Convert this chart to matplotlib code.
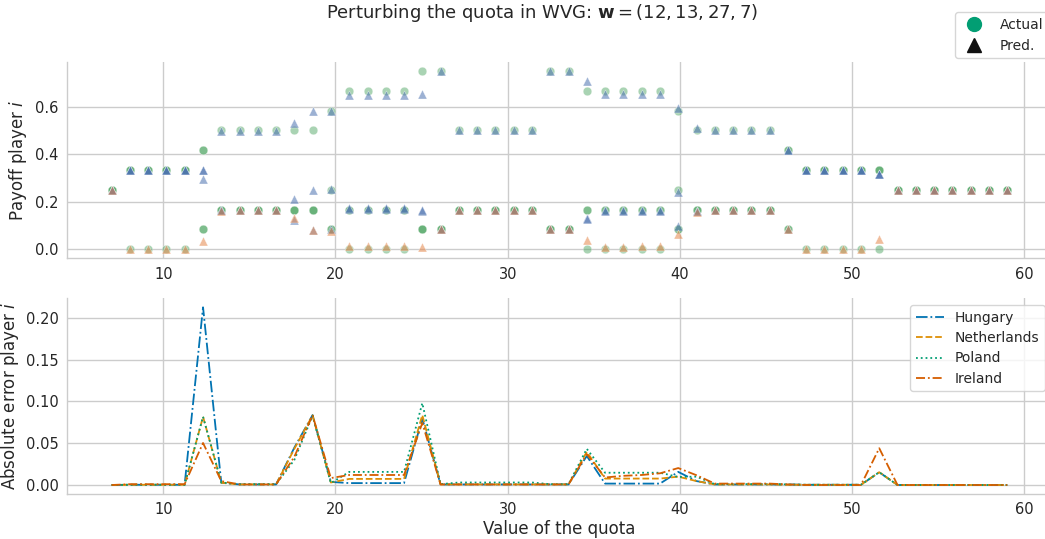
import numpy as np
import matplotlib
matplotlib.use("Agg")
import matplotlib.pyplot as plt
from matplotlib.lines import Line2D

# ---------------- data ----------------
players = ["Hungary", "Netherlands", "Poland", "Ireland"]

quota = [7.00, 8.06, 9.12, 10.18, 11.24, 12.31, 13.37, 14.43, 15.49, 16.55,
         17.61, 18.67, 19.73, 20.80, 21.86, 22.92, 23.98, 25.04, 26.10, 27.16,
         28.22, 29.29, 30.35, 31.41, 32.47, 33.53, 34.59, 35.65, 36.71, 37.78,
         38.84, 39.90, 40.96, 42.02, 43.08, 44.14, 45.20, 46.27, 47.33, 48.39,
         49.45, 50.51, 51.57, 52.63, 53.69, 54.76, 55.82, 56.88, 57.94, 59.00]

actual_hungary = [0.25, 0.3333, 0.3333, 0.3333, 0.3333, 0.0833, 0.1667, 0.1667, 0.1667, 0.1667,
                  0.1667, 0.1667, 0.0833, 0.1667, 0.1667, 0.1667, 0.1667, 0.0833, 0.0833, 0.1667,
                  0.1667, 0.1667, 0.1667, 0.1667, 0.0833, 0.0833, 0.1667, 0.1667, 0.1667, 0.1667,
                  0.1667, 0.0833, 0.1667, 0.1667, 0.1667, 0.1667, 0.1667, 0.0833, 0.3333, 0.3333,
                  0.3333, 0.3333, 0.3333, 0.25, 0.25, 0.25, 0.25, 0.25, 0.25, 0.25]
actual_netherlands = [0.25, 0.3333, 0.3333, 0.3333, 0.3333, 0.4167, 0.1667, 0.1667, 0.1667, 0.1667,
                      0.1667, 0.1667, 0.25, 0.1667, 0.1667, 0.1667, 0.1667, 0.0833, 0.0833, 0.1667,
                      0.1667, 0.1667, 0.1667, 0.1667, 0.0833, 0.0833, 0.1667, 0.1667, 0.1667, 0.1667,
                      0.1667, 0.25, 0.1667, 0.1667, 0.1667, 0.1667, 0.1667, 0.4167, 0.3333, 0.3333,
                      0.3333, 0.3333, 0.3333, 0.25, 0.25, 0.25, 0.25, 0.25, 0.25, 0.25]
actual_poland = [0.25, 0.3333, 0.3333, 0.3333, 0.3333, 0.4167, 0.5, 0.5, 0.5, 0.5,
                 0.5, 0.5, 0.5833, 0.6667, 0.6667, 0.6667, 0.6667, 0.75, 0.75, 0.5,
                 0.5, 0.5, 0.5, 0.5, 0.75, 0.75, 0.6667, 0.6667, 0.6667, 0.6667,
                 0.6667, 0.5833, 0.5, 0.5, 0.5, 0.5, 0.5, 0.4167, 0.3333, 0.3333,
                 0.3333, 0.3333, 0.3333, 0.25, 0.25, 0.25, 0.25, 0.25, 0.25, 0.25]
actual_ireland = [0.25, 0.0, 0.0, 0.0, 0.0, 0.0833, 0.1667, 0.1667, 0.1667, 0.1667,
                  0.1667, 0.1667, 0.0833, 0.0, 0.0, 0.0, 0.0, 0.0833, 0.0833, 0.1667,
                  0.1667, 0.1667, 0.1667, 0.1667, 0.0833, 0.0833, 0.0, 0.0, 0.0, 0.0,
                  0.0, 0.0833, 0.1667, 0.1667, 0.1667, 0.1667, 0.1667, 0.0833, 0.0, 0.0,
                  0.0, 0.0, 0.0, 0.25, 0.25, 0.25, 0.25, 0.25, 0.25, 0.25]

pred_hungary = [0.25, 0.333, 0.333, 0.333, 0.333, 0.296, 0.164, 0.166, 0.166, 0.166,
                0.122, 0.083, 0.087, 0.169, 0.169, 0.169, 0.169, 0.163, 0.084, 0.166,
                0.166, 0.166, 0.166, 0.166, 0.084, 0.084, 0.132, 0.165, 0.165, 0.165,
                0.165, 0.099, 0.162, 0.166, 0.166, 0.166, 0.166, 0.084, 0.333, 0.333,
                0.333, 0.333, 0.318, 0.25, 0.25, 0.25, 0.25, 0.25, 0.25, 0.25]
pred_netherlands = [0.25, 0.333, 0.333, 0.333, 0.333, 0.335, 0.164, 0.166, 0.166, 0.166,
                    0.21, 0.25, 0.253, 0.174, 0.174, 0.174, 0.174, 0.167, 0.084, 0.166,
                    0.166, 0.166, 0.166, 0.166, 0.084, 0.084, 0.127, 0.159, 0.159, 0.159,
                    0.159, 0.24, 0.162, 0.166, 0.166, 0.166, 0.166, 0.417, 0.333, 0.333,
                    0.333, 0.333, 0.318, 0.25, 0.25, 0.25, 0.25, 0.25, 0.25, 0.25]
pred_poland = [0.25, 0.333, 0.333, 0.333, 0.333, 0.335, 0.497, 0.499, 0.499, 0.499,
               0.53, 0.583, 0.581, 0.651, 0.651, 0.651, 0.651, 0.652, 0.749, 0.503,
               0.503, 0.503, 0.503, 0.503, 0.749, 0.749, 0.71, 0.652, 0.652, 0.652,
               0.652, 0.593, 0.51, 0.501, 0.501, 0.501, 0.501, 0.416, 0.333, 0.333,
               0.333, 0.333, 0.318, 0.25, 0.25, 0.25, 0.25, 0.25, 0.25, 0.25]
pred_ireland = [0.25, 0.001, 0.001, 0.001, 0.001, 0.033, 0.162, 0.166, 0.166, 0.166,
                0.133, 0.083, 0.075, 0.012, 0.012, 0.012, 0.012, 0.009, 0.084, 0.166,
                0.166, 0.166, 0.166, 0.166, 0.084, 0.084, 0.037, 0.009, 0.011, 0.012,
                0.014, 0.063, 0.155, 0.165, 0.165, 0.165, 0.165, 0.084, 0.0, 0.0,
                0.0, 0.0, 0.044, 0.25, 0.25, 0.25, 0.25, 0.25, 0.25, 0.25]

actual = [actual_hungary, actual_netherlands, actual_poland, actual_ireland]
pred = [pred_hungary, pred_netherlands, pred_poland, pred_ireland]

# ---------------- style ----------------
plt.rcParams.update({
    "font.family": ["DejaVu Sans"],
    "axes.edgecolor": "#cccccc",
    "axes.linewidth": 1.0,
    "grid.color": "#cccccc",
    "grid.linewidth": 1.0,
    "xtick.color": "#262626",
    "ytick.color": "#262626",
    "text.color": "#262626",
    "axes.labelcolor": "#262626",
    "xtick.labelsize": 10.5,
    "ytick.labelsize": 10.5,
    "axes.labelsize": 12,
})

W, H = 1045, 539
fig = plt.figure(figsize=(W / 100, H / 100), dpi=100)

left = 66.8 / W
width = (1052 - 66.8) / W
ax1 = fig.add_axes([left, 1 - 258.2 / H, width, 196.1 / H])
ax2 = fig.add_axes([left, 1 - 493.9 / H, width, 195.5 / H])

dot_color = "#55a868"
tri_colors = ["#4c72b0", "#4c72b0", "#4c72b0", "#e5884c"]

for a in actual:
    ax1.scatter(quota, a, s=38, marker="o", color=dot_color, alpha=0.5,
                edgecolors="white", linewidths=0.4, zorder=2)
for p, c in zip(pred, tri_colors):
    ax1.scatter(quota, p, s=42, marker="^", color=c, alpha=0.55,
                edgecolors="white", linewidths=0.4, zorder=3)

line_colors = ["#0173b2", "#de8f05", "#029e73", "#d55e00"]
line_styles = ["-.", "--", ":", (0, (5, 1.6, 1, 1.6))]
for name, a, p, c, ls in zip(players, actual, pred, line_colors, line_styles):
    err = np.abs(np.array(p) - np.array(a))
    ax2.plot(quota, err, color=c, linestyle=ls, linewidth=1.3, label=name)

for ax in (ax1, ax2):
    ax.grid(True, zorder=0)
    ax.set_axisbelow(True)
    ax.tick_params(length=0, pad=6)
    for s in ("top", "right"):
        ax.spines[s].set_visible(False)
    ax.set_xticks([10, 20, 30, 40, 50, 60])

ax1.set_yticks([0.0, 0.2, 0.4, 0.6])
ax1.set_ylabel("Payoff player $i$")
ax2.set_yticks([0.0, 0.05, 0.10, 0.15, 0.20])
ax2.set_yticklabels(["0.00", "0.05", "0.10", "0.15", "0.20"])
ax2.set_ylabel("Absolute error player $i$", labelpad=3)
ax2.set_xlabel("Value of the quota", labelpad=2)

ax2.legend(loc="upper right", fontsize=10, frameon=True, edgecolor="#cccccc",
           handlelength=2.0, labelspacing=0.45)

fig.text(542.5 / W, 1 - 13 / H, r"Perturbing the quota in WVG: $\mathbf{w} = (12, 13, 27, 7)$",
         ha="center", va="center", fontsize=13)

handles = [Line2D([], [], marker="o", linestyle="none", color="#029e73", markersize=10),
           Line2D([], [], marker="^", linestyle="none", color="#111111", markersize=10)]
fig.legend(handles, ["Actual", "Pred."], loc="upper left",
           bbox_to_anchor=(955 / W, 1 - 12 / H), fontsize=10, frameon=True,
           edgecolor="#cccccc", borderaxespad=0.0)

fig.savefig("out.png", dpi=100)
